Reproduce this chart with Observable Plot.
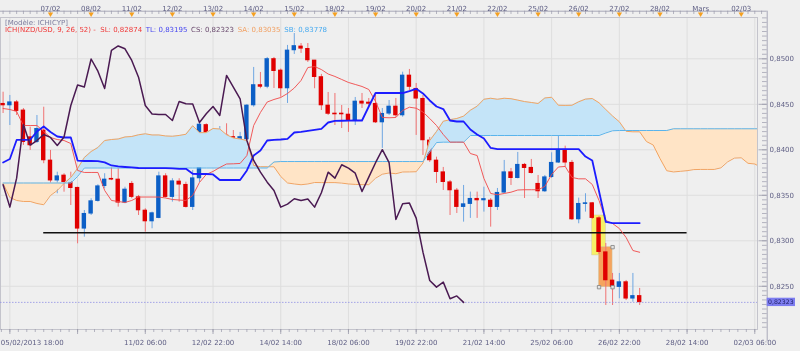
<!DOCTYPE html>
<html><head><meta charset="utf-8">
<script src="https://cdn.jsdelivr.net/npm/d3@7"></script>
<script src="https://cdn.jsdelivr.net/npm/@observablehq/plot@0.6"></script>
<style>
body{margin:0;background:#efefef;}
#wrap{position:relative;width:800px;height:351px;overflow:hidden;}
#legend{position:absolute;left:5px;top:0;font-family:"DejaVu Sans";font-size:7px;}
#legend div{position:absolute;white-space:nowrap;line-height:8px;}
</style></head><body><div id="wrap"><div id="legend"></div></div>
<script>
// ---- data (4h candles NZD/USD) ----
const openP = [.84506,.84487,.84523,.84433,.84139,.84084,.84212,.83883,.83661,.83718,
.83644,.83583,.83132,.83297,.83436,.83600,.83682,.83674,.83418,.83627,
.83480,.83333,.83212,.83249,.83710,.83480,.83652,.83616,.83370,.83685,
.84273,.84031,.84092,.84158,.84141,.84048,.84114,.84487,.84712,.84691,
.84998,.84872,.84674,.85092,.85136,.85110,.84982,.84800,.84487,.84399,
.84399,.84388,.84322,.84531,.84520,.84506,.84300,.84396,.84476,.84377,
.84817,.84671,.84561,.84103,.83883,.83754,.83644,.83553,.83370,.83403,
.83462,.83443,.83443,.83370,.83528,.83754,.83688,.83836,.83803,.83627,
.83542,.83699,.83858,.84001,.83858,.83234,.83403,.83414,.83249,.82875,
.82564,.82491,.82546,.82363,.82394];
const highP = [.84633,.84597,.84542,.84454,.84249,.84377,.84468,.83993,.83754,.83737,
.83754,.83589,.83333,.83462,.83616,.83737,.83883,.83792,.83589,.83652,
.83498,.83352,.83315,.83754,.83737,.83682,.83682,.83644,.83773,.84289,
.84286,.84180,.84256,.84286,.84212,.84191,.84498,.84905,.84850,.85015,
.85015,.84888,.85147,.85278,.85168,.85168,.84982,.84829,.84630,.84619,
.84487,.84454,.84575,.84619,.84564,.84597,.84454,.84542,.84564,.84853,
.84883,.84729,.84597,.84136,.83919,.83806,.83663,.83575,.83608,.83535,
.83535,.83589,.83465,.83575,.83883,.83795,.83971,.83850,.83894,.83718,
.83718,.83967,.84158,.84040,.83883,.83469,.83517,.83421,.83267,.82971,
.82641,.82641,.82564,.82641,.82476];
const lowP = [.84399,.84267,.84377,.84048,.83993,.84070,.83847,.83572,.83517,.83534,
.83388,.82967,.83040,.83278,.83425,.83572,.83661,.83370,.83407,.83462,
.83278,.83095,.83132,.83242,.83470,.83425,.83425,.83360,.83333,.83641,
.83971,.83938,.84070,.84114,.83993,.83938,.84103,.84468,.84671,.84671,
.84674,.84578,.84509,.85048,.85059,.84960,.84671,.84432,.84377,.84267,
.84234,.84191,.84267,.84454,.84476,.84289,.84015,.84377,.84355,.84358,
.84652,.84158,.83938,.83861,.83630,.83553,.83278,.83300,.83205,.83246,
.83246,.83315,.83150,.83333,.83520,.83608,.83680,.83465,.83734,.83465,
.83531,.83685,.83850,.83809,.83223,.83187,.83315,.83234,.82850,.82289,
.82289,.82363,.82343,.82325,.82289];
const closeP = [.84487,.84523,.84425,.84084,.84048,.84231,.83883,.83661,.83710,.83644,
.83578,.83132,.83297,.83436,.83600,.83674,.83671,.83418,.83564,.83480,
.83333,.83212,.83304,.83710,.83480,.83655,.83616,.83370,.83688,.84278,
.84052,.84102,.84168,.84136,.84048,.84141,.84487,.84712,.84691,.84998,
.84864,.84674,.85092,.85141,.85110,.84982,.84798,.84487,.84394,.84388,
.84388,.84322,.84531,.84506,.84504,.84300,.84396,.84476,.84377,.84817,
.84690,.84561,.84103,.83883,.83754,.83644,.83553,.83370,.83403,.83462,
.83443,.83460,.83370,.83528,.83754,.83688,.83836,.83798,.83743,.83542,
.83699,.83858,.84001,.83858,.83234,.83407,.83414,.83249,.82875,.82564,
.82491,.82546,.82363,.82394,.82323];
// Tenkan (SL) and Kijun (TL) per candle
const tenkan = [.84454,.84443,.84421,.84267,.84267,.84267,.84201,.84135,.84113,.84102,
.84069,.83773,.83751,.83751,.83751,.83553,.83443,.83432,.83421,.83443,
.83481,.83481,.83481,.83481,.83470,.83454,.83448,.83443,.83498,.83641,
.83729,.83762,.83806,.83844,.83846,.83850,.83937,.84267,.84410,.84525,
.84553,.84575,.84619,.84679,.84762,.84904,.84915,.84882,.84833,.84806,
.84773,.84740,.84718,.84696,.84663,.84531,.84355,.84352,.84355,.84432,
.84468,.84457,.84415,.84344,.84267,.84168,.84084,.84084,.84084,.83959,
.83937,.83685,.83520,.83506,.83520,.83534,.83558,.83561,.83561,.83561,
.83597,.83729,.83811,.83817,.83696,.83681,.83681,.83619,.83443,.83223,
.83190,.83135,.83036,.82893,.82874];
const kijun = [.83861,.83899,.84108,.84110,.84110,.84201,.84256,.84196,.84146,.84135,
.84135,.83882,.83877,.83877,.83875,.83861,.83828,.83817,.83811,.83806,
.83800,.83798,.83798,.83798,.83798,.83795,.83791,.83791,.83736,.83734,
.83734,.83729,.83668,.83668,.83668,.83668,.83773,.83937,.83992,.84102,
.84110,.84113,.84121,.84190,.84196,.84207,.84218,.84229,.84300,.84317,
.84319,.84320,.84322,.84322,.84476,.84624,.84624,.84624,.84624,.84624,
.84646,.84670,.84619,.84542,.84476,.84448,.84322,.84311,.84311,.84223,
.84168,.84124,.84020,.84007,.84007,.84007,.84007,.84007,.84007,.84007,
.84007,.84007,.84007,.84007,.84007,.84007,.83926,.83883,.83545,.83207,
.83195,.83195,.83195,.83195,.83195];
// Senkou A for the first 26 visible positions (earlier part comes from older candles)
const senkouAHead = [.83630,.83476,.83443,.83432,.83432,.83410,.83396,.83498,.83553,.83630,
.83696,.83795,.83915,.83981,.84025,.84102,.84113,.84119,.84141,.84146,
.84165,.84176,.84163,.84163,.84152,.84149];
// Senkou B, 113 positions (26 projected forward)
const senkouB = [.83635,.83635,.83635,.83635,.83635,.83635,.83635,.83635,.83635,.83635,
.83635,.83707,.83800,.83800,.83800,.83800,.83800,.83800,.83800,.83800,
.83800,.83800,.83800,.83800,.83800,.83800,.83800,.83800,.83800,.83800,
.83800,.83800,.83800,.83800,.83800,.83800,.83800,.83800,.83800,.83800,
.83866,.83871,.83871,.83871,.83871,.83871,.83871,.83871,.83871,.83871,
.83871,.83871,.83871,.83871,.83871,.83871,.83871,.83871,.83871,.83871,
.83871,.83871,.83871,.83976,.84080,.84084,.84084,.84084,.84084,.84157,
.84157,.84157,.84157,.84157,.84157,.84157,.84157,.84157,.84157,.84157,
.84157,.84157,.84157,.84157,.84157,.84157,.84157,.84157,.84157,.84185,
.84209,.84212,.84212,.84212,.84212,.84212,.84212,.84212,.84212,.84231,
.84231,.84231,.84231,.84231,.84231,.84231,.84231,.84231,.84231,.84231,
.84231,.84231,.84231];
const senkouBNow = 0.83778;
const supportLevel = 0.83088, supportFrom = 6, supportTo = 101;
const highlights = [
  {k: 88, lo: 0.82839, hi: 0.83278, fill: "#f6f066"},
  {k: 89, lo: 0.82490, hi: 0.82930, fill: "#f5a45e"}
];
const topDayLabels = ["07/02","08/02","11/02","12/02","13/02","14/02","15/02","18/02","19/02","20/02","21/02","22/02","25/02","26/02","27/02","28/02","Mars","02/03"];
const bottomLabels = ["05/02/2013 18:00","11/02 06:00","12/02 22:00","14/02 14:00","18/02 06:00","19/02 22:00","21/02 14:00","25/02 06:00","26/02 22:00","28/02 14:00","02/03 06:00"];
const bottomLabelHours = [-24,56,96,136,176,216,256,296,336,376,416];
const priceTicks = [0.825,0.83,0.835,0.84,0.845,0.85];

// ---- derived ----
const startHour = -28; // candle 0 = 05/02 18:00, hours counted from the 07/02 session open
const H = k => 4*k + startHour;
const candles = openP.map((o,k)=>({h:H(k), open:o, high:highP[k], low:lowP[k], close:closeP[k], up: closeP[k] >= o}));
const lineData = tenkan.map((t,k)=>({h:H(k), t, kj:kijun[k]}));
const chikou = d3.range(closeP.length-26).map(k=>({h:H(k), v:closeP[k+26]}));
const senkouA = senkouB.map((_,k)=> k < senkouAHead.length ? senkouAHead[k] : (tenkan[k-26]+kijun[k-26])/2);
const cloud = [];
for (let k=0;k<senkouB.length;k++){
  const a=senkouA[k], b=senkouB[k];
  cloud.push({h:H(k), a, b});
  if (k<senkouB.length-1){
    const d0=a-b, d1=senkouA[k+1]-senkouB[k+1];
    if (d0*d1<0){const t=d0/(d0-d1); const v=a+(senkouA[k+1]-a)*t; cloud.push({h:H(k)+4*t, a:v, b:v});}
  }
}
const last = closeP[closeP.length-1];
const fmt = (d,n)=>(Math.round(d*10**n + 1e-6)/10**n).toFixed(n).replace(".",",");

const xDom = [-29.53, 417.6], yDom = [0.82025, 0.85454];
const minorTop = d3.range(-28, 424, 4);
const minorBottom = d3.range(-29, 420, 5);
const majorBottom = d3.range(-24, 420, 40);
const minorRight = d3.range(0.8205, 0.8545, 0.0005);
const hl = highlights.map(d=>({...d, h1:H(d.k)-4, h2:H(d.k)+4}));
const handles = [{h:hl[1].h2, y:hl[1].hi},{h:hl[1].h1, y:hl[1].lo},{h:hl[1].h2, y:hl[1].lo}];
const axisCol = "#5e5e84";

const plot = Plot.plot({
  width: 800, height: 351,
  marginLeft: 0, marginRight: 43, marginTop: 17, marginBottom: 22,
  x: {domain: xDom, axis: null},
  y: {domain: yDom, axis: null},
  style: {background: "#efefef", fontFamily: "DejaVu Sans", fontSize: "7px", overflow: "visible"},
  marks: [
    Plot.ruleX(majorBottom, {x: d=>d, stroke: "#dedede"}),
    Plot.ruleY(priceTicks, {y: d=>d, stroke: "#dedede"}),
    Plot.frame({stroke: "#c4c4cc"}),
    Plot.rect(hl, {x1:"h1", x2:"h2", y1:"lo", y2:"hi", fill: d=>d.fill, stroke:"#d0c8a0", strokeWidth:0.5}),
    Plot.ruleX(candles, {x:"h", y1:"low", y2:"high", stroke: d=>d.up ? "#6fa6e2" : "#f07272", strokeWidth:1, clip:true}),
    Plot.rect(candles, {x1: d=>d.h-1.3, x2: d=>d.h+1.3, y1:"open", y2:"close", insetTop:-0.3, insetBottom:-0.3, fill: d=>d.up ? "#0c5fc6" : "#e00000", clip:true}),
    Plot.areaY(cloud, {x:"h", y1:"b", y2: d=>Math.max(d.a,d.b), fill:"#c4e4f8", mixBlendMode:"multiply", clip:true}),
    Plot.areaY(cloud, {x:"h", y1:"b", y2: d=>Math.min(d.a,d.b), fill:"#ffe4c6", mixBlendMode:"multiply", clip:true}),
    Plot.line(cloud, {x:"h", y:"a", stroke:"#f2a462", strokeWidth:1, clip:true}),
    Plot.line(cloud, {x:"h", y:"b", stroke:"#5ab4ec", strokeWidth:1, clip:true}),
    Plot.ruleY([supportLevel], {y: d=>d, x1: H(supportFrom), x2: H(supportTo), stroke:"#111", strokeWidth:1.5}),
    Plot.ruleY([last], {y: d=>d, stroke:"#9090e6", strokeWidth:0.8, strokeDasharray:"1.5,1.5"}),
    Plot.line(lineData, {x:"h", y:"t", stroke:"#f04848", strokeWidth:0.9}),
    Plot.line(lineData, {x:"h", y:"kj", stroke:"#1c1cff", strokeWidth:1.8}),
    Plot.line(chikou, {x:"h", y:"v", stroke:"#4a1a52", strokeWidth:1.5}),
    Plot.dot(handles, {x:"h", y:"y", symbol:"square", r:1.9, fill:"#e4e4e4", stroke:"#808080", strokeWidth:0.8}),
    // top axis
    Plot.ruleY([yDom[1]], {y: d=>d, dy:-6.3, insetRight:-9.7, stroke:"#a9a9b8"}),
    Plot.ruleX(minorTop, {x: d=>d, insetTop:-6.3, insetBottom:315, stroke:"#9a9aaa", strokeWidth:0.7}),
    Plot.dot(topDayLabels.map((t,i)=>24*i), {x: d=>d, frameAnchor:"top", dy:-3.5, symbol:"triangle", r:2, rotate:180, fill:"#f5a020"}),
    Plot.text(topDayLabels.map((t,i)=>({h:24*i, t})), {x:"h", text:"t", frameAnchor:"top", dy:-11.7, fill:axisCol}),
    // right axis
    Plot.ruleX([xDom[1]], {x: d=>d, dx:9.7, insetTop:-6.3, insetBottom:-12, stroke:"#a9a9b8"}),
    Plot.ruleY(minorRight, {y: d=>d, insetLeft:762, insetRight:-9.7, stroke:"#9a9aaa", strokeWidth:0.7}),
    Plot.ruleY(priceTicks, {y: d=>d, insetLeft:758.5, insetRight:-9.7, stroke:"#9a9aaa", strokeWidth:0.8}),
    Plot.text(priceTicks, {y: d=>d, text: d=>fmt(d,4), frameAnchor:"right", dx:12, textAnchor:"start", fill:axisCol}),
    Plot.rect([last], {y1: d=>d-0.00046, y2: d=>d+0.00046, x1: xDom[1], x2: xDom[1], insetLeft:9.7, insetRight:-38, fill:"#7d7df0"}),
    Plot.text([last], {y: d=>d, text: d=>fmt(d,5), frameAnchor:"right", dx:10.5, textAnchor:"start", fontSize:6.2, fill:"#1c1c60"}),
    // bottom axis
    Plot.ruleX(minorBottom, {x: d=>d, insetTop:312, insetBottom:-3, stroke:"#9a9aaa", strokeWidth:0.7}),
    Plot.ruleX(majorBottom, {x: d=>d, insetTop:312, insetBottom:-5, stroke:"#9a9aaa", strokeWidth:0.8}),
    Plot.text(bottomLabels.slice(1).map((t,i)=>({h:bottomLabelHours[i+1], t})), {x:"h", text:"t", frameAnchor:"bottom", dy:15, fill:axisCol}),
    Plot.text([{h:bottomLabelHours[0], t:bottomLabels[0]}], {x:"h", text:"t", frameAnchor:"bottom", dy:15, dx:-9, textAnchor:"start", fill:axisCol})
  ]
});
document.getElementById("wrap").prepend(plot);

// legend
const lg = document.getElementById("legend");
const T = tenkan[tenkan.length-1], K = kijun[kijun.length-1];
const items = [
  {left:0, top:19, color:"#7c7c9e", text:"[Modèle: ICHICYP]"},
  {left:0, top:26, color:"#f03838", text:"ICH(NZD/USD, 9, 26, 52) -\u00a0\u00a0SL: " + fmt(T,5)},
  {left:140.7, top:26, color:"#4848f0", text:"TL: " + fmt(K,5)},
  {left:186, top:26, color:"#6a4a6e", text:"CS: " + fmt(last,5)},
  {left:232.7, top:26, color:"#f2a062", text:"SA: " + fmt((T+K)/2,5)},
  {left:279.3, top:26, color:"#46aaf0", text:"SB: " + fmt(senkouBNow,5)}
];
for (const it of items){
  const d = document.createElement("div");
  d.style.left = it.left+"px"; d.style.top = it.top+"px"; d.style.color = it.color;
  d.textContent = it.text; lg.appendChild(d);
}
document.getElementById("wrap").appendChild(lg);
</script></body></html>
